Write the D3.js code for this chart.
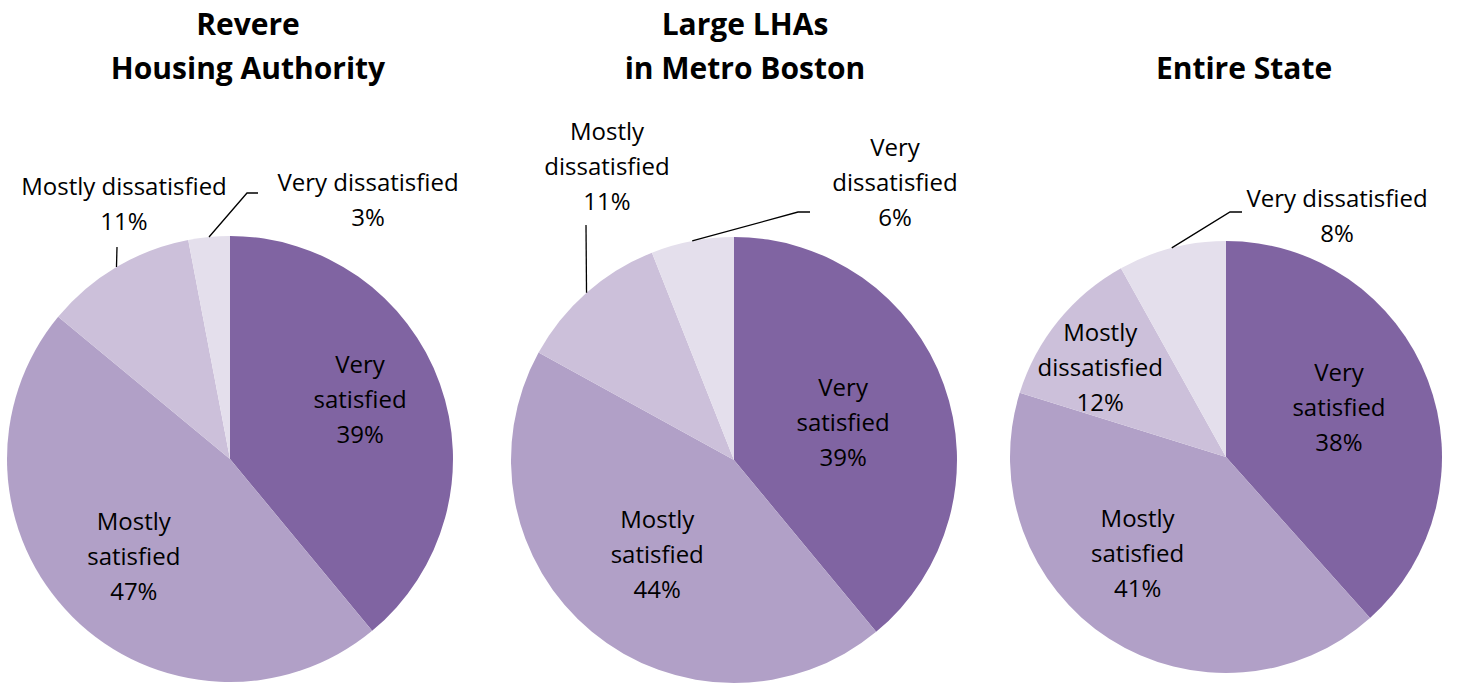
<!DOCTYPE html>
<html>
<head>
<meta charset="utf-8">
<script src="https://cdn.jsdelivr.net/npm/d3@7"></script>
<style>
  body { margin: 0; background: #fff; }
  text { font-family: "Open Sans", Lato, sans-serif; fill: #000; }
</style>
</head>
<body>
<svg></svg>
<script>
const width = 1467;
const height = 685;

// satisfaction categories, clockwise from 12 o'clock
const categories = ["Very satisfied", "Mostly satisfied", "Mostly dissatisfied", "Very dissatisfied"];
const colors = ["#8064a2", "#b1a0c7", "#ccc0da", "#e4dfec"];

const titles = [
  ["Revere", "Housing Authority"],
  ["Large LHAs", "in Metro Boston"],
  ["Entire State"]
];

// percentages
const revere = [39, 47, 11, 3];
const metroBoston = [39, 44, 11, 6];
const entireState = [38, 41, 12, 8];

const seriesList = [revere, metroBoston, entireState];

// layout of each pie and its labels (not data)
const layouts = [
  { cx: 230, cy: 459, r: 223, titleX: 248,
    labels: [
      { inside: true, k: 0.62, nudge: [0, -14] },
      { inside: true, k: 0.61, nudge: [0, 0] },
      { inside: false, elbow: [117, 247], end: [117, 247], text: [124, 185], wrap: false },
      { inside: false, elbow: [247, 193], end: [258, 193], text: [368, 181], wrap: false }
    ] },
  { cx: 734, cy: 460, r: 223, titleX: 745,
    labels: [
      { inside: true, k: 0.52, nudge: [0, 0] },
      { inside: true, k: 0.54, nudge: [0, 0] },
      { inside: false, elbow: [586, 225], end: [586, 225], text: [607, 130], wrap: true },
      { inside: false, elbow: [798, 212], end: [810, 212], text: [895, 146], wrap: true }
    ] },
  { cx: 1226, cy: 457, r: 216, titleX: 1244,
    labels: [
      { inside: true, k: 0.56, nudge: [0, -8] },
      { inside: true, k: 0.6, nudge: [0, 0], angle: 223 },
      { inside: true, k: 0.72, nudge: [0, 0], angle: 306 },
      { inside: false, elbow: [1230, 212], end: [1242, 212], text: [1337, 197], wrap: false }
    ] }
];

const lineH = 35;
const fontSize = 24;

const svg = d3.select('svg')
  .attr('width', width)
  .attr('height', height);

const pie = d3.pie().sort(null).value(d => d);

function splitLabel(name, wrap) {
  const words = name.split(" ");
  return wrap ? [words[0], words.slice(1).join(" ")] : [name];
}

seriesList.forEach((values, i) => {
  const lay = layouts[i];
  const arc = d3.arc().innerRadius(0).outerRadius(lay.r);
  const g = svg.append('g');

  const arcs = pie(values);

  g.append('g')
    .attr('transform', `translate(${lay.cx},${lay.cy})`)
    .selectAll('path')
    .data(arcs)
    .enter().append('path')
      .attr('d', arc)
      .attr('fill', (d, j) => colors[j]);

  // title
  const title = g.append('text')
    .attr('text-anchor', 'middle')
    .attr('font-size', 30)
    .attr('font-weight', 'bold');
  const tl = titles[i];
  tl.forEach((t, j) => {
    title.append('tspan')
      .attr('x', lay.titleX)
      .attr('y', 79 - (tl.length - 1 - j) * 44)
      .text(t);
  });

  arcs.forEach((d, j) => {
    const L = lay.labels[j];
    const mid = L.angle != null ? L.angle * Math.PI / 180 : (d.startAngle + d.endAngle) / 2;
    const pct = values[j] + "%";
    let lines, x, yTop;
    if (L.inside) {
      const rr = L.k * lay.r;
      x = lay.cx + rr * Math.sin(mid) + L.nudge[0];
      const yc = lay.cy - rr * Math.cos(mid) + L.nudge[1];
      lines = splitLabel(categories[j], true).concat([pct]);
      yTop = yc - (lines.length - 1) * lineH / 2;
    } else {
      const sx = lay.cx + lay.r * Math.sin(mid);
      const sy = lay.cy - lay.r * Math.cos(mid);
      g.append('polyline')
        .attr('points', [[sx, sy], L.elbow, L.end].map(p => p.join(',')).join(' '))
        .attr('fill', 'none')
        .attr('stroke', '#000')
        .attr('stroke-width', 1.3);
      x = L.text[0];
      lines = splitLabel(categories[j], L.wrap).concat([pct]);
      yTop = L.text[1];
    }
    const t = g.append('text')
      .attr('text-anchor', 'middle')
      .attr('font-size', fontSize)
      .attr('dominant-baseline', 'central');
    lines.forEach((s, k) => {
      t.append('tspan')
        .attr('x', x)
        .attr('y', yTop + k * lineH)
        .text(s);
    });
  });
});
</script>
</body>
</html>
